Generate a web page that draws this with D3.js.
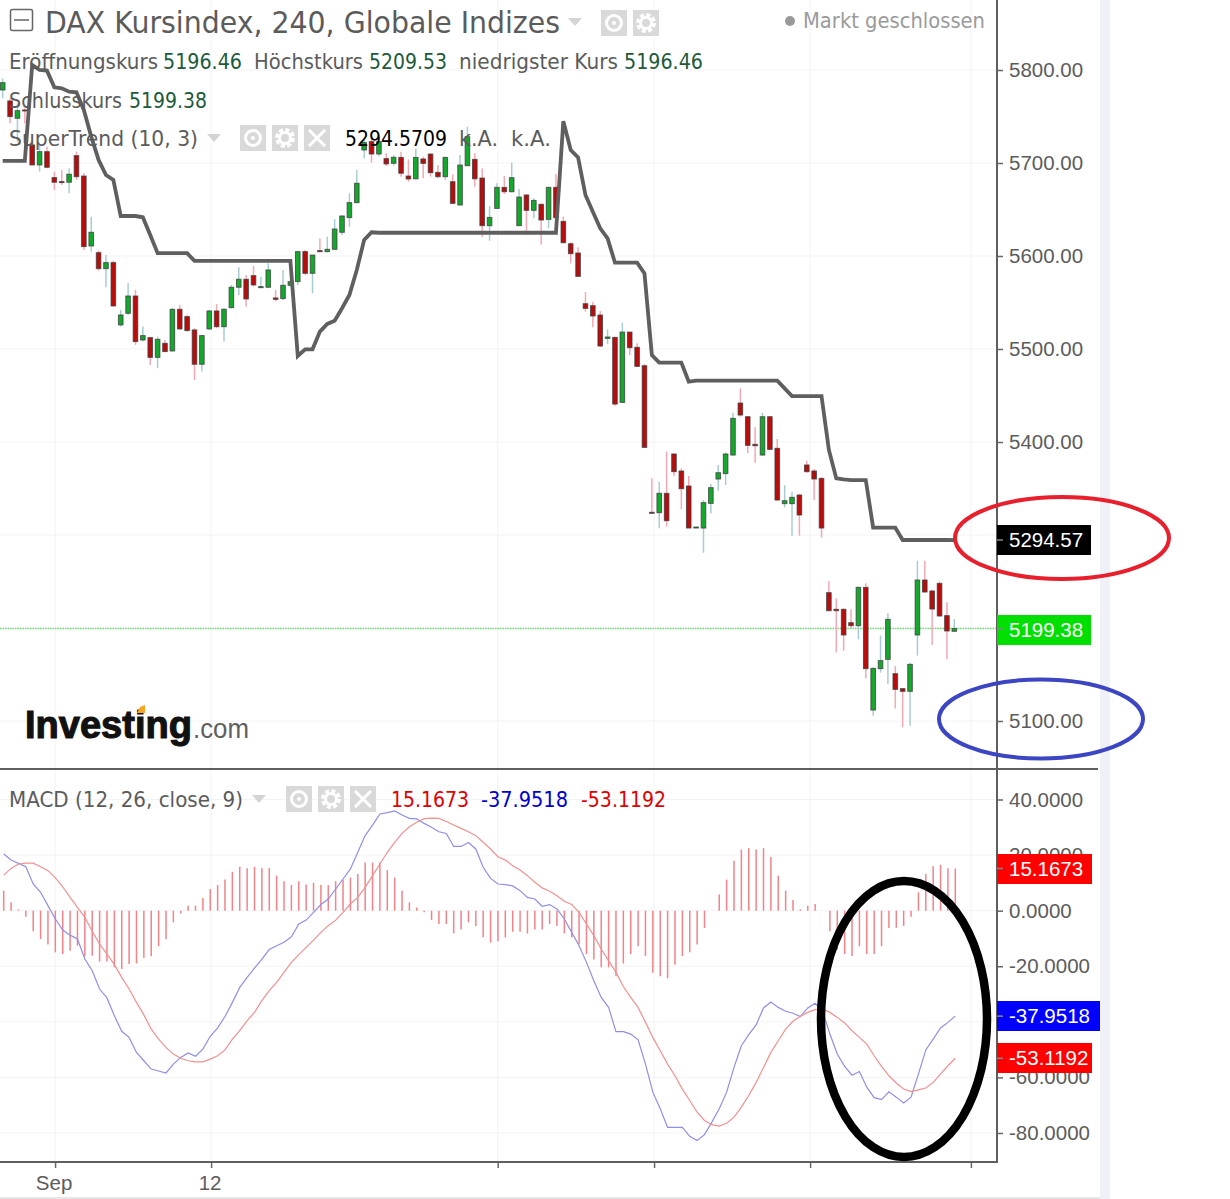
<!DOCTYPE html>
<html lang="en">
<head>
<meta charset="utf-8">
<script src="https://d3js.org/d3.v7.min.js"></script>
<style>
  html, body { margin: 0; padding: 0; background: #fff; }
  svg { display: block; }
</style>
</head>
<body>
<script>
// Candles
const opens = [5778.5,5766.7,5748.1,5757,5719.4,5697.9,5712.2,5684.3,5680,5679.3,5707.9,5686,5610.8,5603.6,5586.4,5592.9,5525.9,5538.4,5557,5509.7,
  5512.2,5491,5506.1,5497.9,5542.7,5534.8,5520.5,5483.6,5521.6,5540.9,5524,5544.5,5566.4,5575,5578.9,5566,5566.4,5554.9,5554.2,5568.5,
  5572.5,5604.7,5581.4,5605.8,5604.7,5607.2,5625.5,5641.3,5657.4,5714,5723,5709.7,5704.7,5699.7,5706,5686,5683,5704.3,5709.6,5689.9,
  5685.3,5679.9,5654.8,5697.1,5703.9,5683.8,5632.6,5651.2,5673.8,5669.1,5632.6,5665.6,5649.1,5655.5,5639.4,5673.8,5637.2,5613.2,5603.2,5548.7,
  5546.6,5536.5,5511.4,5512.5,5442.6,5518.2,5501.8,5482,5324.4,5324,5344.8,5387.1,5368.8,5352.7,5307.5,5307.5,5334,5360.2,5366,5386,
  5441.9,5427.2,5397.5,5386,5427.2,5393.2,5333.7,5333.7,5343,5375.3,5368.8,5360.9,5238,5220.1,5220.1,5205.7,5202.5,5243.7,5111.8,5156.3,
  5166.3,5150.9,5134.8,5131.9,5192.5,5251.6,5239.8,5248,5213.3,5196.46];
const closes = [5786.4,5749.9,5756.3,5756.3,5697.9,5712.2,5695.4,5679.3,5679.3,5687.9,5685.3,5610.1,5625.5,5586.4,5592.9,5546.3,5536.6,5557,5508,5514.4,
  5491,5510.4,5497.2,5542.7,5521.6,5519.8,5483.6,5514.4,5540.9,5524,5542.7,5566.4,5575,5553.8,5568.9,5567.1,5585,5553.4,5568.5,5572.5,
  5604.7,5581.4,5601,5604.7,5607.2,5629,5643,5657.4,5678.2,5722,5709.7,5723,5699,5706.1,5689,5682.8,5706,5699.6,5689.6,5685.3,
  5706,5656.6,5697.8,5728.3,5683,5632.6,5641.5,5673.8,5669.1,5684.2,5663.4,5649.1,5659.8,5638.7,5673.8,5641.2,5614.3,5602.5,5578.1,5543.7,
  5535.5,5503.2,5512.9,5440.8,5518.2,5501.4,5481.3,5394.2,5323.3,5344.8,5315.4,5368.1,5349.8,5307.5,5308.6,5334.8,5350.9,5367,5387.1,5425.4,
  5429,5396.4,5396,5427.2,5392.1,5337.6,5336.9,5340.5,5321.5,5368.1,5360.2,5307.5,5218.6,5218.6,5192.5,5202.5,5243.7,5156.3,5156.6,5164.9,
  5209.3,5134,5131.9,5160.9,5251.6,5238.7,5220.4,5212.9,5196.8,5199.38];
const highs = [5791,5769.6,5764.2,5758.8,5724.8,5719.4,5717.6,5690.7,5692.5,5694.3,5712.2,5689,5642.3,5605.8,5601,5595,5542,5570.7,5563.5,5524.1,
  5513.3,5513.3,5509.7,5543.8,5547.4,5536.6,5522.3,5515.1,5542,5548.4,5543.8,5568.9,5587.9,5579.6,5589.3,5577.8,5592.2,5563.5,5585,5572.5,
  5604.7,5606.5,5601,5619,5620.8,5639.5,5644.1,5667.4,5692.5,5724.8,5728.4,5726.6,5710.4,5708.6,5712,5703.9,5715.7,5706.8,5710.4,5697.8,
  5706.8,5687.8,5708.6,5739,5710.4,5694.2,5653.7,5678.1,5686,5700.3,5672,5666.3,5662,5656.6,5674.5,5688.1,5642.3,5614.7,5609.3,5561.2,
  5550.9,5540.8,5521.1,5513.2,5528.3,5518.2,5506.1,5483.8,5360.9,5357.3,5389.6,5387.8,5371.7,5363.4,5308.6,5337.6,5354.8,5375.3,5388.5,5431.5,
  5457.7,5427.9,5415.8,5431.5,5427.9,5403.2,5353.6,5346.6,5344.1,5379.9,5370.9,5362,5250.5,5231.9,5221.1,5220.1,5244.4,5248,5157.4,5191.8,
  5215.8,5159.1,5135.1,5162.7,5272.4,5272.4,5240.8,5249.8,5227.6,5209.53];
const lows = [5769.6,5742.7,5723,5742.7,5697.9,5690.7,5694.3,5671,5676.4,5667.4,5681.8,5606.5,5604.7,5584.3,5566.4,5545.6,5524,5536.6,5504.4,5508,
  5482.8,5479.3,5497.2,5497.2,5520.5,5518.7,5466.7,5475.7,5520.5,5522.3,5508,5543.8,5558.1,5545.6,5567.1,5565.3,5565.3,5551,5552.7,5567.1,
  5568.9,5579.6,5560,5604,5604,5606.5,5622.6,5631.6,5656.7,5705,5700.4,5706.9,5696.8,5697.2,5685.3,5679.9,5682.4,5683.5,5685.3,5683.5,
  5681.7,5655.9,5654.8,5697.1,5674.5,5620.8,5616.5,5650.5,5666.6,5668.4,5632.6,5622.5,5640.5,5612.5,5629.7,5631.5,5613.6,5592.1,5577.8,5540.1,
  5523.3,5501.8,5505.3,5439,5442.6,5493.5,5481.3,5394.2,5323.3,5307.2,5309,5363.4,5327.6,5307.5,5307.5,5281,5323.3,5347.7,5353.8,5385.3,
  5427.2,5387.8,5377.8,5385,5391.4,5336.9,5329.7,5299.3,5299.3,5367,5337.6,5297.1,5218.6,5173.8,5175.6,5199.6,5187.8,5145.9,5105.7,5152,
  5139.8,5113.6,5093.2,5095,5170.3,5238,5181.7,5212.2,5166.3,5196.46];
const superTrend = [5702.2,5702.2,5702.2,5702.2,5805.4,5800,5799.3,5781.4,5780.3,5776.7,5776,5757,5728.4,5703.3,5687.1,5681.8,5643,5643,5643,5641.6,
  5622.6,5603,5603,5603,5603,5603,5594.7,5594.7,5594.7,5594.7,5594.7,5594.7,5594.7,5594.7,5594.7,5594.7,5594.7,5594.7,5594.7,5594.7,
  5492.5,5499.7,5499.7,5518.7,5527,5530.5,5543.8,5558.1,5585,5617.3,5625.5,5625,5625,5625,5625,5625,5625,5625,5625,5625,
  5625,5625,5625,5625,5625,5625,5625,5625,5625,5625,5625,5625,5625,5625,5625,5625,5745,5713.9,5706,5665.6,
  5647.6,5629.7,5619,5592.8,5592.8,5592.8,5592.8,5581.3,5493.5,5485.3,5485.3,5485.3,5485.3,5464.9,5465.9,5465.9,5465.9,5465.9,5465.9,5465.9,
  5465.9,5465.9,5465.9,5465.9,5465.9,5465.9,5457.7,5449.4,5449.4,5449.4,5449.4,5449.4,5391.4,5360.9,5359.8,5359.1,5359.1,5359.1,5307.9,5307.9,
  5307.9,5307.9,5294.6,5294.6,5294.6,5294.6,5294.6,5294.6,5294.6,5294.57];

// MACD pane
const histogram = [7.2,3,0.4,-2.2,-7.4,-10.2,-12.2,-15,-15.6,-14.4,-12.6,-16.4,-16.2,-18.3,-18.3,-20.4,-21,-19.2,-19,-17,
  -16.4,-12.8,-10.3,-4.2,-1,1.8,1.8,4.6,7.8,9.2,11.2,14,15.8,15.3,15.8,15.3,15.3,12.6,10.6,9.2,
  10.6,9.4,10,9.2,9.2,10.6,11.2,11.9,13.2,17.3,17.3,17.3,14.6,11.9,7.2,3,1.1,-0.6,-3.4,-4.8,
  -4.8,-8.2,-6.8,-4.2,-5.5,-9.6,-11.5,-11,-9.6,-7.6,-7.6,-8.2,-6.8,-6.8,-4.8,-5.5,-8.2,-9.6,-12.2,-15.6,
  -17.6,-20.4,-20.4,-23.6,-19,-15.6,-12.8,-16.3,-22.3,-23.6,-24.3,-19.5,-16.3,-15,-12.2,-6.2,0,5.8,11.2,18,
  22,22.5,22,22.5,19.3,12.6,7.2,3.8,0.5,1.8,2.4,0,-7.4,-14,-15.6,-16.3,-12.8,-15.6,-15.6,-12.8,
  -6.2,-6.2,-5.5,-2.2,6.6,13.2,16,16.5,15.3,15.17];
const macdLine = [20.4,18.2,17,15.8,9.6,6.6,1.8,-3,-7,-8.8,-10.2,-17.4,-21.6,-28.2,-31.4,-37.8,-43.4,-45.6,-51,-54,
  -57,-57.7,-58.4,-55.2,-52.8,-51.2,-52.4,-49.8,-45.2,-42.2,-38.1,-33,-27.6,-24,-20.7,-17.4,-14,-12.6,-11.4,-9.4,
  -4.8,-3.4,-0.6,2.2,4.2,7.8,11.4,15,21,27,30.8,34.8,35.3,35.9,34.4,33.2,33,31.4,30,28.4,
  27.8,23.1,23.1,24.5,22.2,15.6,11.6,9.6,9.4,8.9,7.2,4.8,4.2,1.6,2.2,0.6,-3,-7.8,-12.6,-18.6,
  -25.2,-31.2,-34.8,-43.5,-43.5,-44.4,-46.5,-55.2,-65.3,-71.3,-78,-78,-78,-81.2,-82.7,-80.6,-76.1,-71.3,-65.3,-56.4,
  -48.6,-44.6,-41.1,-35,-32.9,-34.8,-36.2,-36.9,-38.1,-35,-33.3,-36,-44.4,-51.6,-56,-59.2,-57.9,-63.5,-67.3,-68,
  -65.2,-67.1,-69.2,-67.1,-58.8,-50.1,-46.2,-42.2,-40.2,-37.95];
const signalLine = [12.8,15.2,16.8,17.1,17.1,15.8,14.4,11.8,8.6,4.8,1.2,-2.4,-7.4,-12,-15.6,-19.4,-24,-28.2,-33,-37.5,
  -42.6,-46.2,-49.2,-51.6,-53.1,-54,-54.4,-54.4,-53.4,-52.2,-50.1,-46.2,-43.2,-39.6,-36.6,-32.4,-28.8,-25.8,-22.2,-18.6,
  -15.8,-13.2,-10.6,-7.8,-5.4,-3.4,-0.6,2.4,4.8,8.4,12.6,16.8,21,24.6,27.8,30.2,31.8,33.1,33.3,33.2,
  32.1,30.8,29.6,28.4,27,24.6,22.2,19.4,18.2,16.2,14.6,12.6,10.2,8.2,7,5.4,3.4,2.2,-0.6,-4.8,
  -9,-13.8,-18,-22.2,-27.3,-31.2,-34.8,-40.2,-45.6,-50.4,-55.2,-59.4,-64.2,-68.3,-72.5,-75.5,-77,-77.5,-76.5,-74.3,
  -70.7,-66.5,-61.8,-56.4,-51,-46.8,-42.6,-39.8,-38,-36.6,-35.6,-35.4,-36.6,-38.4,-40.4,-43.2,-45.6,-48,-52.2,-56,
  -59.4,-62,-64.2,-65.1,-64.5,-63.8,-61.8,-58.8,-55.8,-53.12];

// Axes. 5300, 5200 and -40 sit fully behind the value tags, so they get no label
const priceTicks = [5800,5700,5600,5500,5400,5300,5200,5100];
const priceHidden = [5300,5200];
const macdTicks = [40,20,0,-20,-40,-60,-80];
const macdHidden = [-40];
const timeTicks = [7.1,28.25,67.1,88.3,109.45,131.25];
const timeLabels = ["Sep","12","","","",""];

const W = 1230, H = 1199, axisX = 997, paneEnd = 1098;
const sansUi = "'DejaVu Sans', sans-serif";
const sansAxis = "'Liberation Sans', Arial, sans-serif";

const svg = d3.select("body").append("svg").attr("width", W).attr("height", H);

const x = d3.scaleLinear().domain([0, 129]).range([2.7, 954.3]);
const yPrice = d3.scaleLinear().domain([5800, 5100]).range([70, 721]);
const yMacd = d3.scaleLinear().domain([40, -80]).range([799.5, 1133]);

// page furniture
svg.append("rect").attr("x", 1100).attr("y", 0).attr("width", 10).attr("height", H).attr("fill", "#f0f1f7");
svg.append("rect").attr("x", 0).attr("y", 1197).attr("width", 1100).attr("height", 2).attr("fill", "#e6e6e6");

// grid
const grid = svg.append("g").attr("stroke", "#f3f3f5").attr("stroke-width", 1);
timeTicks.forEach(t => {
  grid.append("line").attr("x1", x(t)).attr("x2", x(t)).attr("y1", 0).attr("y2", 1162);
});
priceTicks.forEach(p => {
  grid.append("line").attr("x1", 0).attr("x2", axisX).attr("y1", yPrice(p)).attr("y2", yPrice(p));
});
macdTicks.forEach(m => {
  grid.append("line").attr("x1", 0).attr("x2", axisX).attr("y1", yMacd(m)).attr("y2", yMacd(m));
});

// last price line
svg.append("line").attr("x1", 0).attr("x2", axisX).attr("y1", yPrice(5199.38)).attr("y2", yPrice(5199.38))
  .attr("stroke", "#6fdc76").attr("stroke-width", 1.5).attr("stroke-dasharray", "1.5,1");

// candles
const candles = svg.append("g");
opens.forEach((o, i) => {
  const up = closes[i] >= o;
  candles.append("line")
    .attr("x1", x(i)).attr("x2", x(i))
    .attr("y1", yPrice(highs[i])).attr("y2", yPrice(lows[i]))
    .attr("stroke", up ? "#a9ccd2" : "#f2a9b3").attr("stroke-width", 1.5);
  const top = yPrice(Math.max(o, closes[i]));
  const h = Math.abs(yPrice(o) - yPrice(closes[i]));
  candles.append("rect")
    .attr("x", x(i) - 2.3).attr("width", 4.6)
    .attr("y", top).attr("height", Math.max(h, 1))
    .attr("fill", up ? "#12a92c" : "#b90d0d")
    .attr("stroke", "#3a3a3a").attr("stroke-opacity", 0.75).attr("stroke-width", 1);
});

// SuperTrend
svg.append("path").datum(superTrend)
  .attr("fill", "none").attr("stroke", "#5f5f5f").attr("stroke-width", 3.8)
  .attr("stroke-linejoin", "miter")
  .attr("d", d3.line().x((d, i) => x(i)).y(d => yPrice(d)));

// histogram
svg.append("g").selectAll("line").data(histogram).enter().append("line")
  .attr("x1", (d, i) => x(i) + 1).attr("x2", (d, i) => x(i) + 1)
  .attr("y1", yMacd(0)).attr("y2", d => yMacd(d))
  .attr("stroke", "#f28389").attr("stroke-width", 1.5);

// macd lines
const macdPath = d3.line().x((d, i) => x(i) + 1).y(d => yMacd(d));
svg.append("path").datum(macdLine).attr("fill", "none").attr("stroke", "#8f8fe6").attr("stroke-width", 1.2).attr("d", macdPath);
svg.append("path").datum(signalLine).attr("fill", "none").attr("stroke", "#f29090").attr("stroke-width", 1.2).attr("d", macdPath);

// axes
function styleAxis(g) {
  g.select(".domain").remove();
  g.selectAll(".tick line").attr("stroke", "#666").attr("stroke-width", 1.5);
  g.selectAll(".tick text").attr("fill", "#5c5c5c").style("font-family", sansAxis).style("font-size", "20.5px");
}
svg.append("g").attr("transform", `translate(${axisX},0)`)
  .call(d3.axisRight(yPrice).tickValues(priceTicks).tickSize(6).tickPadding(6)
    .tickFormat(d => priceHidden.includes(d) ? "" : d3.format(".2f")(d)))
  .call(styleAxis);
svg.append("g").attr("transform", `translate(${axisX},0)`)
  .call(d3.axisRight(yMacd).tickValues(macdTicks).tickSize(6).tickPadding(6)
    .tickFormat(d => macdHidden.includes(d) ? "" : d3.format(".4f")(d).replace("−", "-")))
  .call(styleAxis);
svg.append("g").attr("transform", "translate(-1.5,1162)")
  .call(d3.axisBottom(x).tickValues(timeTicks).tickSize(6).tickPadding(7).tickFormat((d, i) => timeLabels[i]))
  .call(styleAxis)
  .call(g => g.selectAll(".tick line").attr("transform", "translate(1.5,0)"));

const frame = svg.append("g").attr("stroke", "#5f5f5f").attr("stroke-width", 2);
frame.append("line").attr("x1", axisX).attr("x2", axisX).attr("y1", 0).attr("y2", 1163);
frame.append("line").attr("x1", 0).attr("x2", paneEnd).attr("y1", 769).attr("y2", 769);
frame.append("line").attr("x1", 0).attr("x2", axisX).attr("y1", 1162).attr("y2", 1162);

// last value tags
function tag(value, top, width, fill, label) {
  svg.append("rect").attr("x", axisX).attr("y", top).attr("width", width).attr("height", 30).attr("fill", fill);
  svg.append("text").attr("x", axisX + 12).attr("y", top + 22).attr("fill", "#fff")
    .style("font-family", sansAxis).style("font-size", "20.5px").text(label);
  svg.append("line").attr("x1", axisX).attr("x2", axisX + 6).attr("y1", value).attr("y2", value).attr("stroke", "#888").attr("stroke-width", 1.5);
}
tag(yPrice(5294.57), 525, 94, "#000", "5294.57");
tag(yPrice(5199.38), 615, 94, "#00e000", "5199.38");
tag(yMacd(15.1673), 854, 95, "#ff0000", "15.1673");
tag(yMacd(-37.9518), 1001, 103, "#0000ff", "-37.9518");
tag(yMacd(-53.1192), 1043, 95, "#ff0000", "-53.1192");

// legend text, squeezed to the widths in the picture
function label(str, x0, x1, base, size, fill) {
  svg.append("text").attr("x", x0).attr("y", base).attr("fill", fill)
    .attr("textLength", x1 - x0).attr("lengthAdjust", "spacingAndGlyphs")
    .style("font-family", sansUi).style("font-size", size + "px").text(str);
}
const grey = "#5b5b5b", valGreen = "#1d5a3b";
label("DAX Kursindex, 240, Globale Indizes", 45, 560, 33, 30, grey);
label("Markt geschlossen", 803, 985, 28, 21, "#9a9a9a");
label("Eröffnungskurs", 9, 158, 69, 21.5, grey);
label("5196.46", 163, 242, 69, 21.5, valGreen);
label("Höchstkurs", 254, 363, 69, 21.5, grey);
label("5209.53", 369, 447, 69, 21.5, valGreen);
label("niedrigster Kurs", 459, 618, 69, 21.5, grey);
label("5196.46", 624, 703, 69, 21.5, valGreen);
label("Schlusskurs", 9, 122, 108, 21.5, grey);
label("5199.38", 129, 207, 108, 21.5, valGreen);
label("SuperTrend (10, 3)", 9, 198, 146, 21.5, grey);
label("5294.5709", 345, 447, 146, 21.5, "#000");
label("k.A.", 459, 498, 146, 21.5, grey);
label("k.A.", 511, 551, 146, 21.5, grey);
label("MACD (12, 26, close, 9)", 9, 243, 807, 21.5, grey);
label("15.1673", 391, 469, 807, 21.5, "#e00000");
label("-37.9518", 481, 568, 807, 21.5, "#0000d0");
label("-53.1192", 581, 666, 807, 21.5, "#e00000");

svg.append("circle").attr("cx", 790).attr("cy", 21).attr("r", 5).attr("fill", "#999");

// collapse box
svg.append("rect").attr("x", 10.5).attr("y", 9.5).attr("width", 22).attr("height", 21).attr("rx", 2)
  .attr("fill", "none").attr("stroke", "#666").attr("stroke-width", 1.5);
svg.append("line").attr("x1", 14).attr("x2", 29).attr("y1", 20).attr("y2", 20).attr("stroke", "#666").attr("stroke-width", 1.5);

// dropdown arrows and icons
function arrow(x0, y0) {
  svg.append("path").attr("d", `M${x0},${y0}h14l-7,8z`).attr("fill", "#d4d4d4");
}
function iconBox(x0, y0, kind) {
  svg.append("rect").attr("x", x0).attr("y", y0).attr("width", 26).attr("height", 26).attr("fill", "#d9d9d9");
  const cx = x0 + 13, cy = y0 + 13;
  if (kind === "eye") {
    svg.append("circle").attr("cx", cx).attr("cy", cy).attr("r", 7.5).attr("fill", "none").attr("stroke", "#fff").attr("stroke-width", 3);
    svg.append("circle").attr("cx", cx).attr("cy", cy).attr("r", 2).attr("fill", "#fff");
  } else if (kind === "gear") {
    svg.append("circle").attr("cx", cx).attr("cy", cy).attr("r", 8).attr("fill", "none").attr("stroke", "#fff").attr("stroke-width", 4).attr("stroke-dasharray", "4,2.3");
    svg.append("circle").attr("cx", cx).attr("cy", cy).attr("r", 5.5).attr("fill", "none").attr("stroke", "#fff").attr("stroke-width", 3);
  } else {
    svg.append("path").attr("d", `M${cx - 8},${cy - 8}L${cx + 8},${cy + 8}M${cx + 8},${cy - 8}L${cx - 8},${cy + 8}`)
      .attr("stroke", "#fff").attr("stroke-width", 3);
  }
}
arrow(568, 18); iconBox(601, 10, "eye"); iconBox(633, 10, "gear");
arrow(207, 134); iconBox(240, 125, "eye"); iconBox(272, 125, "gear"); iconBox(304, 125, "x");
arrow(252, 795); iconBox(286, 786, "eye"); iconBox(318, 786, "gear"); iconBox(350, 786, "x");

// logo
svg.append("text").attr("x", 25).attr("y", 738).attr("fill", "#111").attr("stroke", "#111").attr("stroke-width", 1.1)
  .attr("textLength", 167).attr("lengthAdjust", "spacingAndGlyphs")
  .style("font-family", sansAxis).style("font-weight", "bold").style("font-size", "38px").text("Investing");
svg.append("text").attr("x", 193).attr("y", 738).attr("fill", "#5f5f5f")
  .attr("textLength", 56).attr("lengthAdjust", "spacingAndGlyphs")
  .style("font-family", sansAxis).style("font-size", "28px").text(".com");
svg.append("path").attr("d", "M137,713l3,-6l5,-2v8z").attr("fill", "#f5a623");

// hand drawn circles
const marks = svg.append("g").attr("fill", "none");
marks.append("ellipse").attr("cx", 1062).attr("cy", 538).attr("rx", 107).attr("ry", 41).attr("stroke", "#e8202e").attr("stroke-width", 4);
marks.append("ellipse").attr("cx", 1041).attr("cy", 719).attr("rx", 102).attr("ry", 39.5).attr("stroke", "#3c46c2").attr("stroke-width", 4);
marks.append("ellipse").attr("cx", 904).attr("cy", 1019).attr("rx", 83).attr("ry", 138).attr("stroke", "#000").attr("stroke-width", 8.5);
</script>
</body>
</html>
